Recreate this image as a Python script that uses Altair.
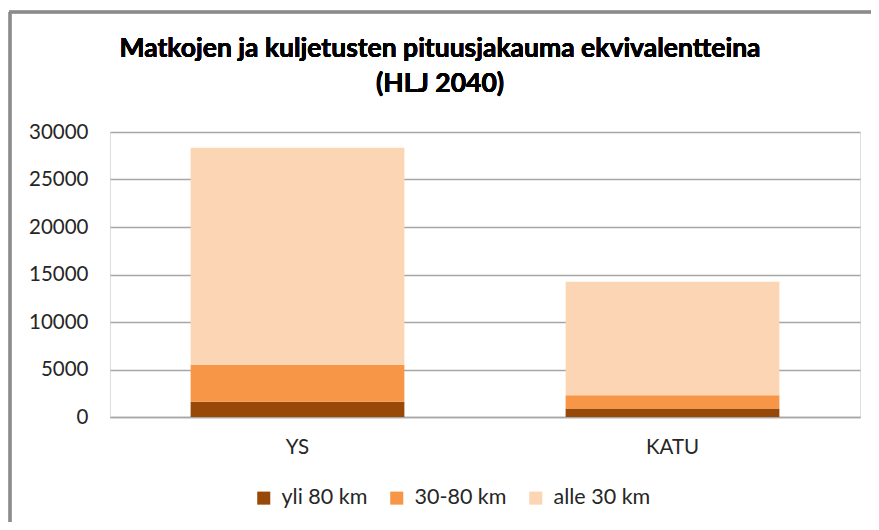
import altair as alt
import pandas as pd

categories = ["YS", "KATU"]
series = ["yli 80 km", "30-80 km", "alle 30 km"]
yli80 = [1600, 900]
v30_80 = [3900, 1400]
alle30 = [22850, 11950]
colors = ["#984807", "#F79646", "#FCD5B4"]
y_ticks = [0, 5000, 10000, 15000, 20000, 25000, 30000]
title_lines = ["Matkojen ja kuljetusten pituusjakauma ekvivalentteina", "(HLJ 2040)"]

rows = []
for i, c in enumerate(categories):
    for j, (s, vals) in enumerate(zip(series, [yli80, v30_80, alle30])):
        rows.append({"cat": c, "series": s, "value": vals[i], "ord": j})
df = pd.DataFrame(rows)

FONT = "Lato"

bars = alt.Chart(df).mark_bar().encode(
    x=alt.X("cat:N", sort=categories, title=None,
            scale=alt.Scale(paddingInner=0.43, paddingOuter=0.215),
            axis=alt.Axis(labelAngle=0, labelFont=FONT, labelFontSize=20.5,
                          labelColor="#262626", labelPadding=20, ticks=False,
                          domain=True, domainColor="#a6a6a6", domainWidth=1.5)),
    y=alt.Y("value:Q", title=None, stack="zero",
            scale=alt.Scale(domain=[0, 30000], nice=False),
            axis=alt.Axis(values=y_ticks, format="d", labelFont=FONT, labelFontSize=20.5,
                          labelColor="#262626", labelPadding=22, ticks=False,
                          domain=False, grid=True, gridColor="#a6a6a6",
                          gridWidth=1.5)),
    color=alt.Color("series:N", sort=series,
                    scale=alt.Scale(domain=series, range=colors),
                    legend=alt.Legend(title=None, orient="none", direction="horizontal",
                                      legendX=143, legendY=355, symbolType="square",
                                      symbolSize=170, symbolStrokeWidth=0,
                                      labelFont=FONT, labelFontSize=21.5,
                                      labelColor="#262626", columnPadding=18,
                                      labelOffset=7)),
    order=alt.Order("ord:Q", sort="ascending"),
)

title = alt.Chart(df).mark_text(
    font=FONT, fontSize=26.5, fontWeight="bold", color="#000000",
    align="center", baseline="alphabetic", lineHeight=35,
).encode(x=alt.value(330), y=alt.value(-75), text=alt.value(title_lines))

border_left = alt.Chart(df).mark_rule(color="#8c8c8c", strokeWidth=2.5).encode(
    x=alt.value(-100), y=alt.value(-120), y2=alt.value(600))
border_top = alt.Chart(df).mark_rule(color="#8c8c8c", strokeWidth=2.5).encode(
    x=alt.value(-101), x2=alt.value(900), y=alt.value(-120))

chart = alt.layer(bars, title, border_left, border_top).properties(
    width=750, height=285,
    autosize=alt.AutoSizeParams(type="none"),
    padding={"left": 102, "top": 124, "right": 11, "bottom": 105},
).configure_view(stroke=None).configure(background="white")

chart.save("out.html", embed_options={"renderer": "svg", "actions": False})
